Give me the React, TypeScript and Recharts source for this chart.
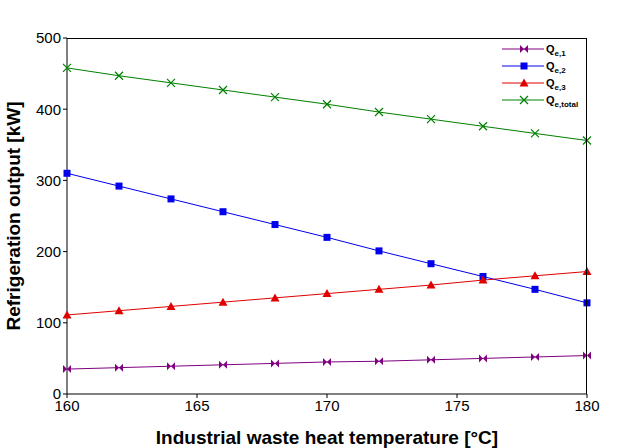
import React from "react";
import { Line, LineChart, XAxis, YAxis } from "recharts";

const temps = [160, 162, 164, 166, 168, 170, 172, 174, 176, 178, 180];
const qe1 = [35, 37, 39, 41, 43, 45, 46, 48, 50, 52, 54];
const qe2 = [310, 292, 274, 256, 238, 220, 201, 183, 165, 147, 128];
const qe3 = [111, 117, 123, 129, 135, 141, 147, 153, 160, 166, 172];
const qeTotal = [458, 447, 437, 427, 417, 407, 396, 386, 376, 366, 356];
const xTicks = [160, 165, 170, 175, 180];
const yTicks = [0, 100, 200, 300, 400, 500];

const data = temps.map((t, i) => ({ t, qe1: qe1[i], qe2: qe2[i], qe3: qe3[i], qeTotal: qeTotal[i] }));

type Kind = "bow" | "square" | "tri" | "x";

function Marker({ kind, cx, cy, color }: { kind: Kind; cx: number; cy: number; color: string }) {
  if (kind === "bow")
    return <path d={`M${cx - 4},${cy - 4}L${cx - 4},${cy + 4}L${cx + 4},${cy - 4}L${cx + 4},${cy + 4}Z`} fill={color} />;
  if (kind === "square") return <rect x={cx - 3.5} y={cy - 3.5} width={7} height={7} fill={color} />;
  if (kind === "tri") return <path d={`M${cx},${cy - 4.5}L${cx + 4.5},${cy + 3.5}L${cx - 4.5},${cy + 3.5}Z`} fill={color} />;
  return <path d={`M${cx - 4},${cy - 4}L${cx + 4},${cy + 4}M${cx + 4},${cy - 4}L${cx - 4},${cy + 4}`} stroke={color} strokeWidth={1.2} />;
}

const SERIES: { key: string; color: string; kind: Kind; sub: string }[] = [
  { key: "qe1", color: "#800080", kind: "bow", sub: "e,1" },
  { key: "qe2", color: "#0000ee", kind: "square", sub: "e,2" },
  { key: "qe3", color: "#e00000", kind: "tri", sub: "e,3" },
  { key: "qeTotal", color: "#008000", kind: "x", sub: "e,total" },
];

function LegendBox() {
  return (
    <svg width={100} height={70} style={{ fontFamily: "Arial, Liberation Sans, sans-serif", display: "block" }}>
      {SERIES.map((s, i) => {
        const y = 10 + i * 17;
        return (
          <g key={s.key}>
            <line x1={16} x2={58} y1={y} y2={y} stroke={s.color} strokeWidth={1} />
            <Marker kind={s.kind} cx={38} cy={y} color={s.color} />
            <text x={60} y={y + 4} fontSize={11} fontWeight="bold" fill="#000">
              Q<tspan fontSize={8} dy={3}>{s.sub}</tspan>
            </text>
          </g>
        );
      })}
    </svg>
  );
}

export default function App() {
  return (
    <div style={{ position: "absolute", left: 0, top: 0, width: 640, height: 448, background: "#fff" }}>
      <LineChart
        width={640}
        height={448}
        data={data}
        margin={{ top: 38, right: 53, bottom: 0, left: 0 }}
        style={{ fontFamily: "Arial, Liberation Sans, sans-serif" }}
      >
        <XAxis
          dataKey="t"
          type="number"
          domain={[160, 180]}
          ticks={xTicks}
          stroke="#000"
          tick={{ fill: "#000", fontSize: 15 }}
          tickSize={4}
          height={54}
          label={{ value: "Industrial waste heat temperature [°C]", position: "insideBottom", offset: 4, fill: "#000", fontSize: 19, fontWeight: "bold" }}
        />
        <YAxis
          type="number"
          domain={[0, 500]}
          ticks={yTicks}
          stroke="#000"
          tick={{ fill: "#000", fontSize: 15 }}
          tickSize={4}
          width={67}
          label={{ value: "Refrigeration output [kW]", angle: -90, position: "center", dx: -20, fill: "#000", fontSize: 19, fontWeight: "bold" }}
        />
        {SERIES.map((s) => (
          <Line
            key={s.key}
            dataKey={s.key}
            stroke={s.color}
            strokeWidth={1}
            isAnimationActive={false}
            dot={(p: any) => <Marker key={`${s.key}-${p.index}`} kind={s.kind} cx={p.cx} cy={p.cy} color={s.color} />}
            activeDot={false}
          />
        ))}
      </LineChart>
      <div
        style={{
          position: "absolute",
          left: 67,
          top: 38,
          width: 520,
          height: 356,
          boxSizing: "border-box",
          borderTop: "1px solid #000",
          borderRight: "1px solid #000",
          pointerEvents: "none",
        }}
      />
      <div style={{ position: "absolute", left: 486, top: 39 }}>
        <LegendBox />
      </div>
    </div>
  );
}
